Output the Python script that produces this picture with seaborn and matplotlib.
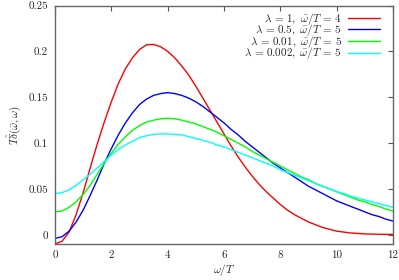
import numpy as np
import pandas as pd
import matplotlib
matplotlib.use("Agg")
import matplotlib.pyplot as plt
import seaborn as sns
from matplotlib.ticker import FuncFormatter

# omega/T sample points
omega = [0, 0.25, 0.5, 0.75, 1, 1.25, 1.5, 1.75, 2, 2.25, 2.5, 2.75, 3, 3.25,
         3.5, 3.75, 4, 4.25, 4.5, 4.75, 5, 5.25, 5.5, 5.75, 6, 6.25, 6.5, 6.75,
         7, 7.25, 7.5, 7.75, 8, 8.25, 8.5, 8.75, 9, 9.25, 9.5, 9.75, 10, 10.25,
         10.5, 10.75, 11, 11.25, 11.5, 11.75, 12]

red = [-0.010, -0.007, 0.003, 0.022, 0.046, 0.073, 0.099, 0.123, 0.145, 0.165,
       0.181, 0.193, 0.202, 0.2072, 0.2075, 0.205, 0.200, 0.193, 0.184, 0.174,
       0.162, 0.149, 0.136, 0.123, 0.110, 0.097, 0.085, 0.074, 0.064, 0.055,
       0.047, 0.040, 0.033, 0.027, 0.022, 0.018, 0.014, 0.011, 0.008, 0.006,
       0.004, 0.003, 0.002, 0.0015, 0.001, 0.0008, 0.0006, 0.0005, 0.0005]
blue = [-0.004, -0.002, 0.004, 0.014, 0.027, 0.043, 0.060, 0.078, 0.094, 0.109,
        0.122, 0.133, 0.142, 0.148, 0.152, 0.154, 0.155, 0.154, 0.152, 0.149,
        0.145, 0.140, 0.134, 0.128, 0.122, 0.115, 0.109, 0.102, 0.096, 0.090,
        0.084, 0.078, 0.073, 0.068, 0.063, 0.058, 0.053, 0.049, 0.045, 0.041,
        0.037, 0.034, 0.031, 0.028, 0.025, 0.022, 0.020, 0.017, 0.015]
green = [0.025, 0.026, 0.030, 0.036, 0.044, 0.054, 0.066, 0.078, 0.089, 0.099,
         0.107, 0.114, 0.119, 0.123, 0.125, 0.1265, 0.127, 0.1265, 0.125, 0.123,
         0.121, 0.118, 0.115, 0.112, 0.108, 0.104, 0.100, 0.096, 0.091, 0.087,
         0.083, 0.079, 0.075, 0.071, 0.067, 0.063, 0.060, 0.056, 0.053, 0.050,
         0.047, 0.044, 0.041, 0.038, 0.036, 0.033, 0.031, 0.028, 0.026]
cyan = [0.045, 0.046, 0.049, 0.054, 0.060, 0.066, 0.073, 0.080, 0.087, 0.093,
        0.098, 0.102, 0.106, 0.108, 0.1095, 0.110, 0.110, 0.1095, 0.109, 0.107,
        0.105, 0.103, 0.101, 0.098, 0.096, 0.093, 0.090, 0.087, 0.084, 0.081,
        0.078, 0.075, 0.071, 0.068, 0.065, 0.062, 0.059, 0.056, 0.053, 0.050,
        0.047, 0.045, 0.042, 0.040, 0.038, 0.036, 0.034, 0.032, 0.030]

labels = [r'$\lambda\,=\,1,\ \bar{\omega}/T\,=\,4$',
          r'$\lambda\,=\,0.5,\ \bar{\omega}/T\,=\,5$',
          r'$\lambda\,=\,0.01,\ \bar{\omega}/T\,=\,5$',
          r'$\lambda\,=\,0.002,\ \bar{\omega}/T\,=\,5$']
colors = ['#ff0000', '#0000ff', '#00ff00', '#00ffff']

sns.set_style("white")
plt.rcParams['font.family'] = 'serif'
plt.rcParams['font.serif'] = ['cmr10']
plt.rcParams['mathtext.fontset'] = 'cm'
plt.rcParams['axes.unicode_minus'] = False

frames = []
for lab, vals in zip(labels, [red, blue, green, cyan]):
    frames.append(pd.DataFrame({'omega': omega, 'delta': vals, 'curve': lab}))
df = pd.concat(frames)

fig = plt.figure(figsize=(3.99, 2.80), dpi=100)
ax = fig.add_axes([55 / 399, 36 / 280, 338 / 399, 238.5 / 280])

sns.lineplot(data=df, x='omega', y='delta', hue='curve', palette=colors,
             hue_order=labels, linewidth=1.0, ax=ax, legend=True)

ax.set_xlim(0, 12)
ax.set_ylim(-0.01, 0.25)
ax.set_xticks(np.arange(0, 13, 2))
ax.set_yticks([0, 0.05, 0.1, 0.15, 0.2, 0.25])
ax.yaxis.set_major_formatter(FuncFormatter(lambda v, p: '%g' % round(v, 3)))
ax.xaxis.set_major_formatter(FuncFormatter(lambda v, p: '%g' % v))
ax.tick_params(direction='in', length=3.5, width=0.8, color='#555555',
               top=True, right=True, labelsize=8, pad=5)
for s in ax.spines.values():
    s.set_color('#666666')
    s.set_linewidth(1.0)

ax.set_xlabel(r'$\omega/T$', fontsize=8, labelpad=1)
ax.set_ylabel(r'$T\hat{\delta}(\bar{\omega},\omega)$', fontsize=8, labelpad=4)

leg = ax.legend(loc='upper right', bbox_to_anchor=(0.9615, 0.978), frameon=False,
                markerfirst=False, fontsize=8, handlelength=2.9,
                labelspacing=-0.4, borderaxespad=0, borderpad=0, handletextpad=0.55)

fig.savefig('out.png', dpi=100)
